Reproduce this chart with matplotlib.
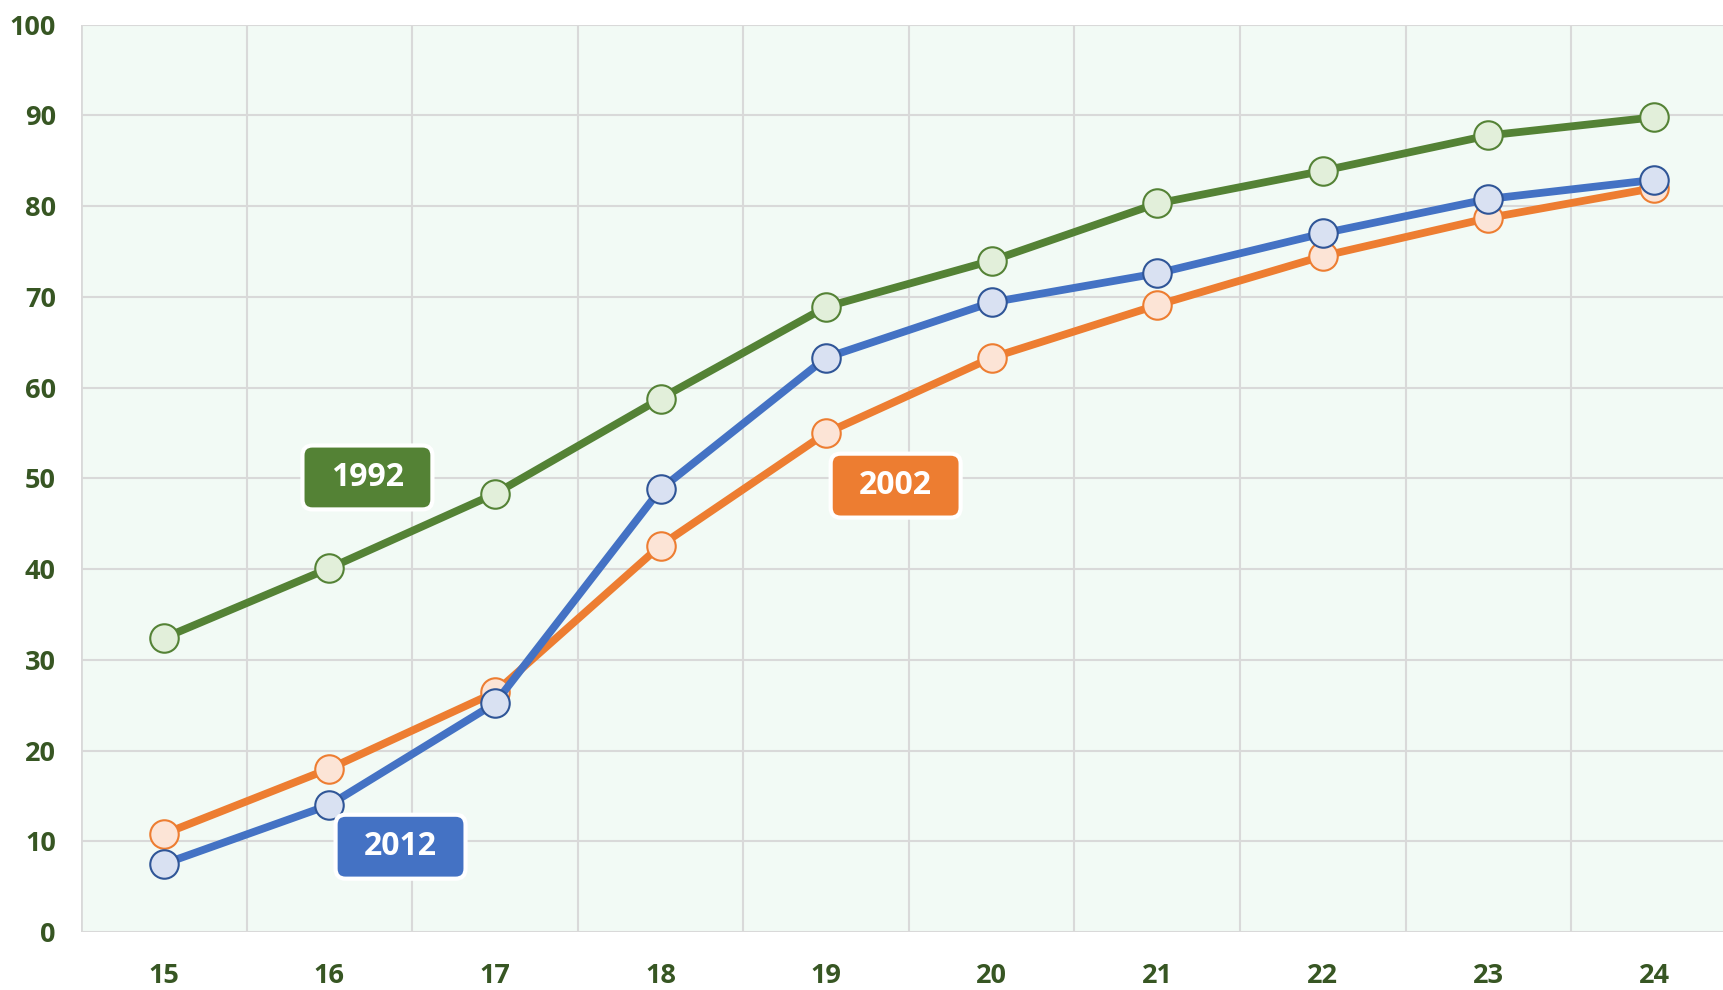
import matplotlib.pyplot as plt
from matplotlib.patches import FancyBboxPatch

# Data
ages = [15, 16, 17, 18, 19, 20, 21, 22, 23, 24]
share_1992 = [32.4, 40.1, 48.3, 58.8, 68.9, 74.0, 80.3, 83.9, 87.8, 89.8]
share_2002 = [10.8, 18.0, 26.4, 42.6, 55.0, 63.3, 69.1, 74.5, 78.7, 82.0]
share_2012 = [7.5, 14.0, 25.2, 48.8, 63.3, 69.4, 72.6, 77.0, 80.8, 82.9]
y_ticks = [0, 10, 20, 30, 40, 50, 60, 70, 80, 90, 100]

series = [
    ("1992", share_1992, "#548235", "#E2EFDA", (16.23, 50.1)),
    ("2002", share_2002, "#ED7D31", "#FCE4D6", (19.42, 49.2)),
    ("2012", share_2012, "#4472C4", "#D9E1F2", (16.43, 9.4)),
]
edge_colors = {"1992": "#548235", "2002": "#ED7D31", "2012": "#2F5597"}

plt.rcParams['font.family'] = ['Open Sans', 'DejaVu Sans']

fig = plt.figure(figsize=(17.23, 9.90), dpi=100)
ax = fig.add_axes([0.047, 0.0586, 0.961, 0.9164])
ax.set_facecolor("#F2FAF5")

ax.set_xlim(14.5, 24.5)
ax.set_ylim(0, 100)

# grid: horizontal at ticks, vertical between categories
for v in y_ticks:
    ax.axhline(v, color="#D9D9D9", lw=1.5, zorder=1)
for x in ages[:-1]:
    ax.axvline(x + 0.5, color="#D9D9D9", lw=1.5, zorder=1)

for spine in ax.spines.values():
    spine.set_visible(False)
ax.axvline(14.5, color="#D9D9D9", lw=2, zorder=1)

zorders = {"1992": 3, "2002": 4, "2012": 5}
for name, vals, col, fill, _ in series:
    ax.plot(ages, vals, color=col, lw=5.6, zorder=zorders[name],
            marker="o", markersize=20.5, markerfacecolor=fill,
            markeredgecolor=edge_colors[name], markeredgewidth=1.5)

# boxed series labels
w, h = 0.785, 7.05
for name, vals, col, fill, (lx, ly) in series:
    box = FancyBboxPatch((lx - w / 2, ly - h / 2), w, h,
                         boxstyle="round,pad=0,rounding_size=0.06",
                         mutation_aspect=18.2,
                         fc=col, ec="white", lw=3, zorder=6)
    ax.add_patch(box)
    ax.text(lx, ly, name, ha="center", va="center", color="white",
            fontsize=23, fontweight="bold", zorder=7)

ax.set_xticks(ages)
ax.set_xticklabels([str(a) for a in ages])
ax.set_yticks(y_ticks)
ax.set_yticklabels([str(v) for v in y_ticks])
ax.tick_params(length=0, labelsize=19.5, labelcolor="#375623")
ax.tick_params(axis="x", pad=22.5)
ax.tick_params(axis="y", pad=18)
for lbl in ax.get_xticklabels() + ax.get_yticklabels():
    lbl.set_fontweight("bold")

fig.savefig("out.png", dpi=100, facecolor="white")
